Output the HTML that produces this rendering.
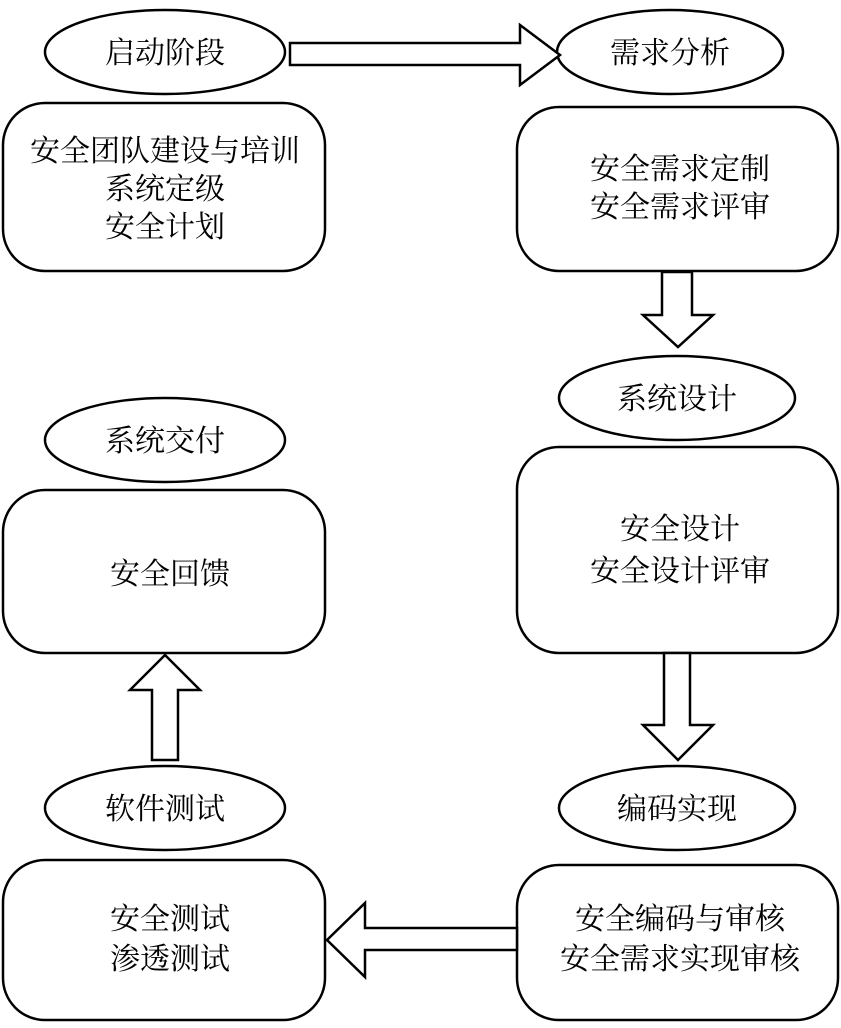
<!DOCTYPE html>
<html><head><meta charset="utf-8"><style>
html,body{margin:0;padding:0;background:#fff;}
text{font-family:"Liberation Serif","Noto Serif CJK SC","Noto Sans CJK SC",serif;font-size:30px;fill:#000;text-anchor:middle;}
</style></head><body>
<svg width="841" height="1023" viewBox="0 0 841 1023" xmlns="http://www.w3.org/2000/svg">
<g fill="#fff" stroke="#000" stroke-width="2.5">
<ellipse cx="165" cy="52" rx="120" ry="42"/>
<rect x="3" y="103" width="322" height="168" rx="42"/>
<ellipse cx="670" cy="52" rx="113" ry="42"/>
<rect x="517" y="107" width="321" height="164" rx="42"/>
<ellipse cx="677" cy="398" rx="118" ry="42"/>
<rect x="517" y="447" width="321" height="206" rx="42"/>
<ellipse cx="677" cy="808" rx="118" ry="42"/>
<rect x="517" y="865" width="321" height="155" rx="42"/>
<rect x="3" y="860" width="322" height="160" rx="42"/>
<ellipse cx="165" cy="808" rx="120" ry="42"/>
<rect x="3" y="490" width="322" height="163" rx="42"/>
<ellipse cx="165" cy="440" rx="120" ry="42"/>
<polygon points="290,43 520,43 520,25 560,55 520,85 520,65 290,65"/>
<polygon points="662,272 692,272 692,315 713,315 678,347 643,315 662,315"/>
<polygon points="664,653 690,653 690,725 713,725 678,760 643,725 664,725"/>
<polygon points="517,928 365,928 365,903 327,940 365,977 365,950 517,950"/>
<polygon points="152,760 178,760 178,690 200,690 165,655 130,690 152,690"/>
</g>
<text x="165" y="63">启动阶段</text>
<text x="165" y="161">安全团队建设与培训</text>
<text x="165" y="199">系统定级</text>
<text x="165" y="237">安全计划</text>
<text x="670" y="63">需求分析</text>
<text x="680" y="179">安全需求定制</text>
<text x="680" y="217">安全需求评审</text>
<text x="677" y="409">系统设计</text>
<text x="680" y="539">安全设计</text>
<text x="680" y="581">安全设计评审</text>
<text x="677" y="819">编码实现</text>
<text x="680" y="929">安全编码与审核</text>
<text x="680" y="969">安全需求实现审核</text>
<text x="165" y="819">软件测试</text>
<text x="170" y="929">安全测试</text>
<text x="170" y="969">渗透测试</text>
<text x="170" y="584">安全回馈</text>
<text x="165" y="451">系统交付</text>
</svg>
</body></html>
